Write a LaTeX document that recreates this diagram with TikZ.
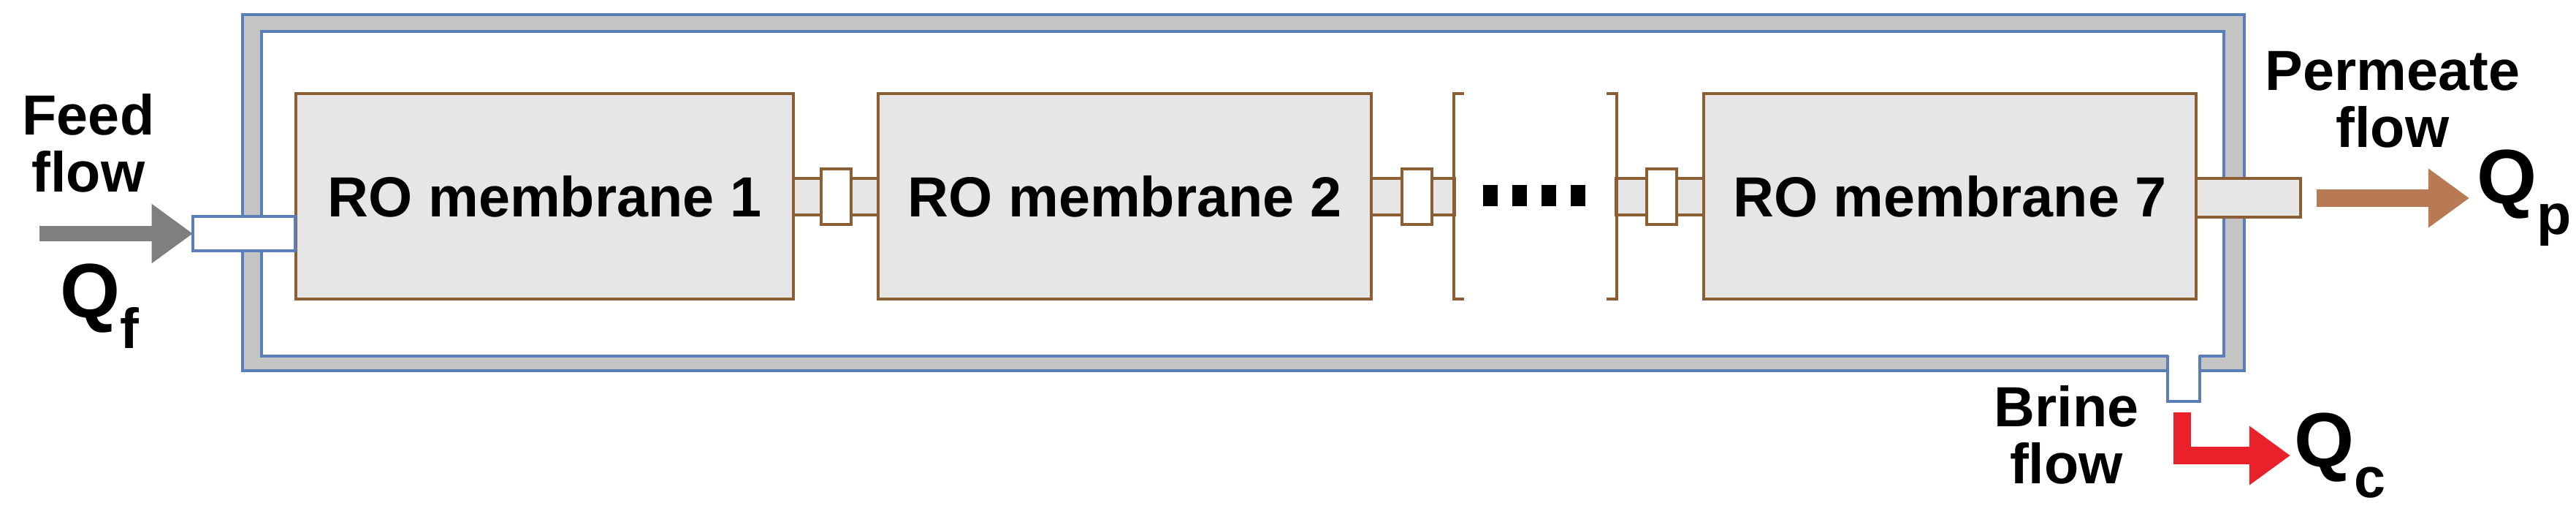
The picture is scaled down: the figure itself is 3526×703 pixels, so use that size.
\documentclass[tikz,border=0pt]{standalone}
\usepackage{fontspec}
\setmainfont{Liberation Sans}
\usetikzlibrary{arrows.meta,positioning}
\definecolor{vesselblue}{HTML}{5B7DB8}
\definecolor{wallgray}{HTML}{C4C4C4}
\definecolor{membrown}{HTML}{8C5E34}
\definecolor{memfill}{HTML}{E6E6E6}
\definecolor{permbrown}{HTML}{B87A55}
\definecolor{brinered}{HTML}{E8212B}
\definecolor{feedgray}{HTML}{7F7F7F}
\newcommand{\flowsub}[1]{\raisebox{-0.4em}{\fontsize{22}{22}\selectfont #1}}
\tikzset{
  membrane/.style={draw=membrown,fill=memfill,line width=1.1pt,minimum height=2.81cm,
    font=\fontsize{22}{24}\selectfont\bfseries,inner sep=0pt},
  pipe/.style={draw=membrown,fill=memfill,line width=1pt},
  coupling/.style={draw=membrown,fill=white,line width=1pt},
  label/.style={font=\fontsize{22}{22}\selectfont\bfseries,align=center,inner sep=0pt},
  flowq/.style={font=\fontsize{30}{30}\selectfont\bfseries,inner sep=0pt},
  flow/.style={line width=7pt,-{Triangle[length=16pt,width=22pt]}}
}
\begin{document}
\begin{tikzpicture}[x=0.01cm,y=-0.01cm]
  \useasboundingbox (0,0) rectangle (3526,703);
  % pressure vessel
  \draw[vesselblue,line width=1.2pt,fill=wallgray] (332,20) rectangle (3072,507);
  \draw[vesselblue,line width=1.2pt,fill=white] (358,43) rectangle (3044,487);
  % inter-stage pipes
  \draw[pipe] (1080,244) rectangle (1208,294);
  \draw[pipe] (1871,244) rectangle (1991,294);
  \draw[pipe] (2212,244) rectangle (2338,294);
  \draw[pipe] (3000,244) rectangle (3149,297);
  % membranes
  \node[membrane,minimum width=6.81cm] (m1) at (745.5,268.5) {RO membrane 1};
  \node[membrane,minimum width=6.75cm] (m2) at (1539.5,268.5) {RO membrane 2};
  \node[membrane,minimum width=6.74cm] (m7) at (2669,268.5) {RO membrane 7};
  % cut membrane ends
  \draw[membrown,line width=1.1pt] (2004,128) -- (1990,128) -- (1990,409) -- (2004,409);
  \draw[membrown,line width=1.1pt] (2199,128) -- (2213,128) -- (2213,409) -- (2199,409);
  \foreach \x in {2030,2070,2110,2150}
    \fill (\x,253) rectangle ++(20,29);
  % couplings
  \foreach \x in {1124,1919,2254}
    \draw[coupling] (\x,231) rectangle ++(41,76);
  % feed side
  \draw[vesselblue,line width=1pt,fill=white] (264,296) rectangle (404,343);
  \coordinate (feedin) at (264,319.5);
  \coordinate (feedstart) at (54,319.5);
  \draw[flow,feedgray,line width=6pt] (feedstart) -- (feedin);
  \node[label,anchor=north west] (feedtxt) at (30,128) {Feed\\flow};
  \node[flowq,anchor=north west] (qf) at (82,360) {Q\flowsub{f}};
  % permeate side
  \coordinate (permout) at (3171,271);
  \coordinate (permend) at (3380,271);
  \draw[flow,permbrown] (permout) -- (permend);
  \node[label,anchor=north west] (permtxt) at (3100,70) {Permeate\\flow};
  \node[flowq,anchor=west] (qp) at (3390,271) {Q\flowsub{p}};
  % brine side
  \fill[white] (2968,484) rectangle (3010,510);
  \draw[vesselblue,line width=1pt] (2967,486) -- (2967,549) -- (3011,549) -- (3011,486);
  \coordinate (brineout) at (2987,564);
  \coordinate (brineend) at (3135,623);
  \draw[flow,brinered] (brineout) |- (brineend);
  \node[label,anchor=north east] (brinetxt) at (2928,527) {Brine\\flow};
  \node[flowq,anchor=west] (qc) at (3140,623) {Q\flowsub{c}};
\end{tikzpicture}
\end{document}
